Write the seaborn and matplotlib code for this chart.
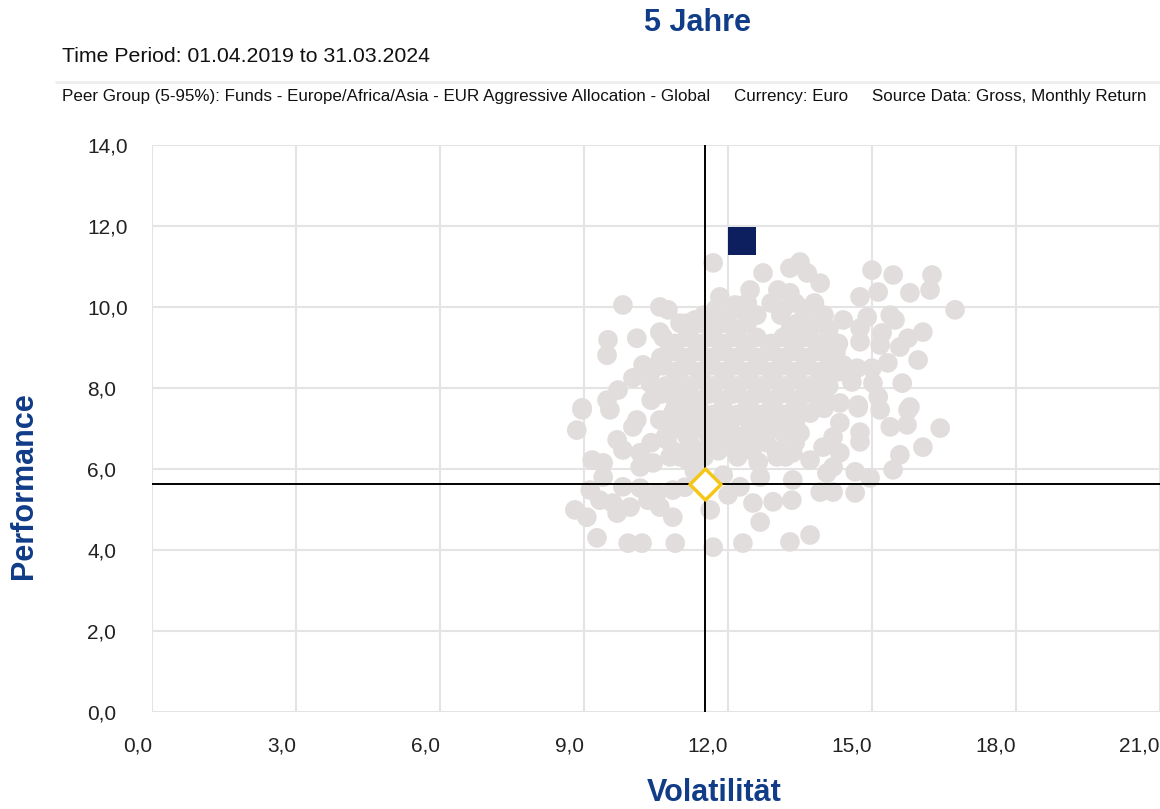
import matplotlib
matplotlib.use("Agg")
import matplotlib.pyplot as plt
import seaborn as sns
import pandas as pd
from matplotlib.lines import Line2D

# ---------------- data ----------------
peer_vol = [
    # upper-left outliers
    9.81, 10.58, 10.75, 9.50, 9.48, 10.10, 10.58, 11.15, 11.31, 10.79, 10.23, 10.02,
    9.71, 9.48, 8.96, 10.58, 10.38, 10.85, 11.00,
    # top
    11.69, 12.73, 13.50, 13.29, 13.65, 13.92, 11.83, 12.46, 13.04, 12.15, 11.69, 13.29,
    # right
    15.00, 15.44, 16.25, 16.21, 15.79, 14.75, 15.13, 16.73, 14.40, 14.90, 15.38, 15.48,
    14.75, 15.21, 14.75, 15.17, 15.58, 15.75, 16.06, 15.96, 15.33, 14.40, 14.69, 15.00,
    14.58, 15.02, 15.13, 15.63, 15.79, 14.71, 14.33,
    # lower right
    14.71, 15.17, 15.75, 15.38, 15.73, 16.42, 14.75, 14.75, 14.33, 15.58, 16.06, 15.44,
    14.65, 14.96, 14.65, 14.33,
    # lower middle
    11.63, 12.67, 11.69, 12.31, 13.29, 13.71, 12.52, 12.94, 13.33, 13.92, 14.19, 12.00,
    12.25, 13.35, 14.06, 14.19, 12.67, 13.71, 13.98, 14.19, 13.15, 12.63, 13.02, 13.35,
    13.50, 13.71, 12.31, 11.69,
    # lower left
    8.96, 9.54, 8.85, 9.69, 9.81, 10.17, 10.17, 9.17, 9.40, 10.44, 10.58, 10.85,
    11.15, 10.10, 10.73, 10.79, 11.15, 9.40, 9.81, 9.13, 10.17, 10.52, 10.85, 9.33,
    9.60, 8.81, 9.06, 9.69, 9.96, 10.58, 10.85, 9.27, 9.92, 10.21, 10.90, 10.33, 10.02,
    # dense core
    12.4, 12.9, 13.4, 13.8,
    11.5, 12.0, 12.6, 13.1, 13.6, 14.0,
    11.2, 11.7, 12.2, 13.3, 13.7, 14.1,
    10.9, 11.4, 11.9, 12.4, 12.9, 13.4, 13.9, 14.3,
    10.6, 11.1, 11.6, 12.1, 12.6, 13.1, 13.6, 14.1,
    10.4, 10.9, 11.4, 11.9, 12.4, 12.9, 13.4, 13.9, 14.3,
    10.7, 11.2, 11.7, 12.2, 12.7, 13.2, 13.7, 14.1,
    10.4, 10.9, 11.4, 11.9, 12.4, 12.9, 13.4, 13.9,
    11.2, 11.7, 12.2, 12.7, 13.2,
    10.9, 11.4, 11.9, 12.6, 13.0,
    10.4, 11.2, 11.7, 12.0, 12.8, 13.4,
    11.0, 11.5, 12.2, 13.2,
    11.3, 11.9, 11.1,
    # dense core, staggered rows
    11.75, 12.25, 13.15, 13.6,
    11.0, 11.45, 11.95, 12.4, 13.45, 13.9,
    10.65, 11.15, 11.65, 12.15, 12.6, 13.15, 13.65, 14.1,
    10.85, 11.35, 11.85, 12.35, 12.85, 13.35, 13.85, 14.25,
    10.65, 11.15, 11.65, 12.15, 12.65, 13.15, 13.65, 14.15,
    10.95, 11.45, 11.95, 12.45, 12.95, 13.45, 13.95,
    10.6, 11.1, 11.6, 12.1, 12.6, 13.1, 13.6, 14.0,
    10.9, 11.4, 11.9, 12.45, 12.95, 13.45, 14.0,
    11.05, 11.55, 12.05, 12.45, 12.9, 13.4,
    10.7, 11.15, 11.6, 12.25, 12.7, 13.2,
    10.85, 11.35, 11.8, 12.5, 13.0,
]
peer_perf = [
    10.05, 10.00, 9.93, 9.19, 8.81, 9.23, 9.38, 9.60, 9.68, 8.94, 8.57, 8.25,
    7.95, 7.70, 7.51, 8.62, 8.12, 8.07, 8.44,
    11.09, 10.84, 11.11, 10.96, 10.84, 10.59, 10.25, 10.42, 10.42, 10.05, 9.75, 10.35,
    10.91, 10.79, 10.79, 10.42, 10.35, 10.25, 10.37, 9.93, 9.68, 9.75, 9.80, 9.68,
    9.48, 9.36, 9.14, 9.06, 9.01, 9.23, 9.38, 8.69, 8.62, 8.57, 8.49, 8.49,
    8.15, 8.12, 7.78, 8.12, 7.53, 7.58, 7.63,
    7.51, 7.46, 7.46, 7.04, 7.09, 7.01, 6.91, 6.67, 6.40, 6.35, 6.54, 5.98,
    5.93, 5.78, 5.41, 7.14,
    4.99, 4.69, 4.07, 4.17, 4.20, 4.37, 5.16, 5.19, 5.23, 5.43, 5.43, 5.36,
    5.56, 5.73, 5.90, 6.05, 5.80, 6.22, 6.54, 6.79, 6.96, 6.17, 6.30, 6.40,
    6.89, 7.38, 6.72, 7.21,
    7.46, 7.46, 6.96, 6.72, 6.47, 6.40, 6.05, 6.22, 6.15, 6.15, 7.21, 7.38,
    7.53, 7.21, 6.72, 6.30, 6.22, 5.80, 5.56, 5.48, 5.53, 5.41, 5.48, 5.23,
    5.16, 4.99, 4.81, 4.91, 5.06, 5.06, 4.81, 4.30, 4.17, 4.17, 4.17, 5.23, 7.04,
    10.1, 10.1, 10.1, 10.1,
    9.8, 9.8, 9.8, 9.8, 9.8, 9.8,
    9.45, 9.45, 9.45, 9.45, 9.45, 9.45,
    9.1, 9.1, 9.1, 9.1, 9.1, 9.1, 9.1, 9.1,
    8.75, 8.75, 8.75, 8.75, 8.75, 8.75, 8.75, 8.75,
    8.4, 8.4, 8.4, 8.4, 8.4, 8.4, 8.4, 8.4, 8.4,
    8.05, 8.05, 8.05, 8.05, 8.05, 8.05, 8.05, 8.05,
    7.7, 7.7, 7.7, 7.7, 7.7, 7.7, 7.7, 7.7,
    7.35, 7.35, 7.35, 7.35, 7.35,
    7.0, 7.0, 7.0, 7.0, 7.0,
    6.65, 6.65, 6.65, 6.65, 6.65, 6.65,
    6.3, 6.3, 6.3, 6.3,
    5.95, 5.85, 5.55,
    9.95, 9.95, 9.95, 9.95,
    9.6, 9.6, 9.6, 9.6, 9.6, 9.6,
    9.25, 9.25, 9.25, 9.25, 9.25, 9.25, 9.25, 9.25,
    8.9, 8.9, 8.9, 8.9, 8.9, 8.9, 8.9, 8.9,
    8.55, 8.55, 8.55, 8.55, 8.55, 8.55, 8.55, 8.55,
    8.2, 8.2, 8.2, 8.2, 8.2, 8.2, 8.2,
    7.85, 7.85, 7.85, 7.85, 7.85, 7.85, 7.85, 7.85,
    7.5, 7.5, 7.5, 7.5, 7.5, 7.5, 7.5,
    7.15, 7.15, 7.15, 7.15, 7.15, 7.15,
    6.8, 6.8, 6.8, 6.8, 6.8, 6.8,
    6.45, 6.45, 6.45, 6.45, 6.45,
]
fund_vol = [12.29]
fund_perf = [11.63]
bench_vol = [11.52]
bench_perf = [5.63]

x_ticks = [0, 3, 6, 9, 12, 15, 18, 21]
x_tick_labels = ["0,0", "3,0", "6,0", "9,0", "12,0", "15,0", "18,0", "21,0"]
y_ticks = [0, 2, 4, 6, 8, 10, 12, 14]
y_tick_labels = ["0,0", "2,0", "4,0", "6,0", "8,0", "10,0", "12,0", "14,0"]

title = "5 Jahre"
period_text = "Time Period: 01.04.2019 to 31.03.2024"
info_text = ("Peer Group (5-95%): Funds - Europe/Africa/Asia - EUR Aggressive Allocation - Global"
             "     Currency: Euro     Source Data: Gross, Monthly Return")
x_label = "Volatilität"
y_label = "Performance"

# ---------------- style ----------------
sns.set_style("white")
plt.rcParams['font.family'] = ['Liberation Sans', 'DejaVu Sans']

NAVY_TXT = "#103c88"
NAVY_SQ = "#0d1f5e"
PEER = "#e1dddc"
GOLD = "#f5c518"
GRID = "#e4e4e4"

W, H = 1160, 809
fig = plt.figure(figsize=(W / 100, H / 100), dpi=100)
ax = fig.add_axes([152 / W, (H - 712) / H, (1160 - 152) / W, (712 - 145) / H])

peers = pd.DataFrame({"vol": peer_vol, "perf": peer_perf})
sns.scatterplot(data=peers, x="vol", y="perf", ax=ax, color=PEER, s=200,
                edgecolor="none", linewidth=0, zorder=3)

ax.axhline(bench_perf[0], color="black", lw=1.4, zorder=4)
ax.axvline(bench_vol[0], color="black", lw=1.4, zorder=4)

sns.scatterplot(x=fund_vol, y=fund_perf, ax=ax, marker="s", color=NAVY_SQ, s=420,
                edgecolor="none", linewidth=0, zorder=5)
sns.scatterplot(x=bench_vol, y=bench_perf, ax=ax, marker="D", color="white", s=250,
                edgecolor=GOLD, linewidth=2.5, zorder=6)

ax.set_xlim(0, 21)
ax.set_ylim(0, 14)
ax.set_xticks(x_ticks)
ax.set_xticklabels(x_tick_labels, ha="right")
ax.set_yticks(y_ticks)
ax.set_yticklabels(y_tick_labels, ha="left")
ax.grid(True, color=GRID, lw=1.5, zorder=0)
ax.set_axisbelow(True)
for sp in ax.spines.values():
    sp.set_visible(False)
ax.tick_params(axis="y", length=11.5, width=1.5, color=GRID, labelsize=15,
               labelcolor="#222222", pad=35)
ax.tick_params(axis="x", length=8, width=1.5, color=GRID, labelsize=15,
               labelcolor="#222222", pad=10)
ax.set_xlabel("")
ax.set_ylabel("")

fig.text(698 / W, 1 - 23 / H, title, ha="center", va="center", fontsize=22,
         fontweight="bold", color=NAVY_TXT)
fig.text(62 / W, 1 - 56 / H, period_text, ha="left", va="center", fontsize=15.3,
         color="#111111")
fig.add_artist(Line2D([56 / W, 1.0], [1 - 82 / H, 1 - 82 / H], color="#eeeeee", lw=2))
fig.text(62 / W, 1 - 97 / H, info_text, ha="left", va="center", fontsize=12.25,
         color="#111111")
fig.text(714 / W, 1 - 793 / H, x_label, ha="center", va="center", fontsize=22,
         fontweight="bold", color=NAVY_TXT)
fig.text(24 / W, 1 - 486 / H, y_label, ha="center", va="center", fontsize=22,
         fontweight="bold", color=NAVY_TXT, rotation=90)

fig.savefig("out.png", dpi=100)
